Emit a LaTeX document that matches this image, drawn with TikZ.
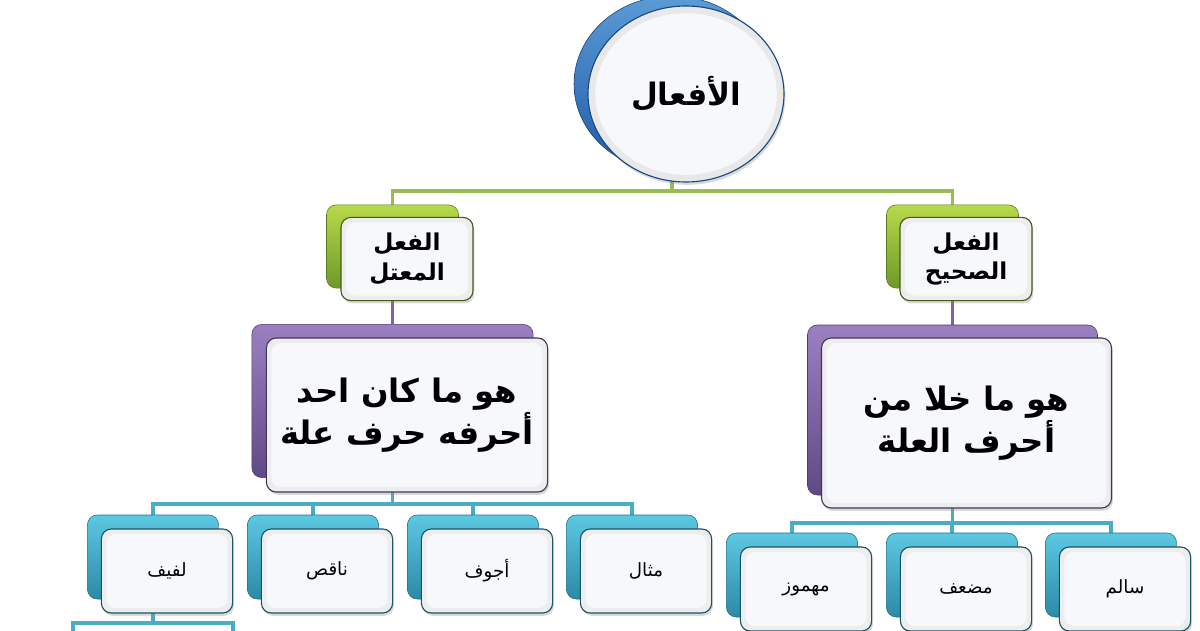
\documentclass[tikz,border=0pt]{standalone}
\usepackage{fontspec}
\usetikzlibrary{backgrounds,shadows,shapes.geometric}
\TeXXeTstate=1
\newfontfamily\arabicfont[Script=Arabic]{DejaVu Sans}
\newcommand{\artxt}[1]{\beginR #1\endR}

\definecolor{grnln}{HTML}{9BBB59}
\definecolor{grntop}{HTML}{B8D94A}
\definecolor{grnbot}{HTML}{6E9A2A}
\definecolor{purln}{HTML}{8064A2}
\definecolor{purtop}{HTML}{9A80C0}
\definecolor{purbot}{HTML}{5F4A85}
\definecolor{cyaln}{HTML}{4BACC6}
\definecolor{cyatop}{HTML}{5CC8E2}
\definecolor{cyabot}{HTML}{2C8AA6}
\definecolor{blutop}{HTML}{5B9BD5}
\definecolor{blubot}{HTML}{1F5AA6}
\definecolor{frin}{HTML}{F6F8FB}

\begin{document}
\begin{tikzpicture}[
  bk/.style={rounded corners=7pt, inner sep=0pt},
  gbk/.style={bk, top color=grntop, bottom color=grnbot, draw=grnbot!80!black, line width=.4pt},
  pbk/.style={bk, top color=purtop, bottom color=purbot, draw=purbot!80!black, line width=.4pt},
  cbk/.style={bk, top color=cyatop, bottom color=cyabot, draw=cyabot!80!black, line width=.4pt},
  fr/.style={rounded corners=7pt, inner sep=2pt, align=center, line width=.8pt,
             fill=gray!14, drop shadow={shadow xshift=1pt, shadow yshift=-2pt, opacity=.3},
             path picture={\fill[frin] ([shift={(3.5pt,-3.5pt)}]path picture bounding box.north west)
               rectangle ([shift={(-3.5pt,3.5pt)}]path picture bounding box.south east);}},
  gfr/.style={fr, draw=grnbot!60!black},
  pfr/.style={fr, draw=purbot!70!black},
  cfr/.style={fr, draw=cyabot!60!black},
  lvone/.style={minimum width=3.3cm, minimum height=2.08cm},
  leaf/.style={minimum width=3.28cm, minimum height=2.1cm},
  boldar/.style={font=\arabicfont\bfseries\fontsize{16.5}{21}\selectfont},
  defar/.style={font=\arabicfont\bfseries\fontsize{23}{30}\selectfont},
  leafar/.style={font=\arabicfont\fontsize{13}{16}\selectfont},
  gln/.style={line width=2.3pt, grnln},
  pln/.style={line width=2.3pt, purln},
  cln/.style={line width=2.3pt, cyaln}
]
  \useasboundingbox (0,0) rectangle (30,15.75);

  %% root circle
  \node[ellipse, minimum width=4.9cm, minimum height=4.4cm, top color=blutop, bottom color=blubot,
        draw=blubot!70!black] (rootb) at (16.8, 13.65) {};
  \node[ellipse, minimum width=4.9cm, minimum height=4.4cm, fill=gray!18, draw=blubot!80!black,
        line width=.8pt, drop shadow={shadow xshift=1pt, shadow yshift=-2pt, opacity=.3},
        path picture={\fill[frin] (path picture bounding box.center) ellipse (2.27cm and 2.02cm);},
        font=\arabicfont\bfseries\fontsize{22}{26}\selectfont] (root) at (17.15, 13.4) {\artxt{الأفعال}};

  %% level one
  \node[gbk, lvone] (mtlb) at (9.8125, 9.5875) {};
  \node[gfr, lvone, boldar] (mtl) at (10.175, 9.275) {\artxt{الفعل}\\\artxt{المعتل}};
  \node[gbk, lvone] (shhb) at (23.8125, 9.5875) {};
  \node[gfr, lvone, boldar] (shh) at (24.15, 9.275) {\artxt{الفعل}\\\artxt{الصحيح}};

  %% definitions
  \node[pbk, minimum width=7.03cm, minimum height=3.83cm] (defmb) at (9.8125, 5.725) {};
  \node[pfr, minimum width=7.03cm, minimum height=3.85cm, defar] (defm) at (10.175, 5.375)
    {\artxt{هو ما كان احد}\\\artxt{أحرفه حرف علة}};
  \node[pbk, minimum width=7.25cm, minimum height=4.25cm] (defsb) at (23.8125, 5.5) {};
  \node[pfr, minimum width=7.25cm, minimum height=4.25cm, defar] (defs) at (24.1625, 5.175)
    {\artxt{هو ما خلا من}\\\artxt{أحرف العلة}};

  %% leaves of the weak verb
  \node[cbk, leaf] (lafifb) at (3.825, 1.825) {};
  \node[cfr, leaf, leafar] (lafif) at (4.175, 1.475) {\artxt{لفيف}};
  \node[cbk, leaf] (naqisb) at (7.825, 1.825) {};
  \node[cfr, leaf, leafar] (naqis) at (8.175, 1.475) {\artxt{ناقص}};
  \node[cbk, leaf] (ajwafb) at (11.825, 1.825) {};
  \node[cfr, leaf, leafar] (ajwaf) at (12.175, 1.475) {\artxt{أجوف}};
  \node[cbk, leaf] (mithalb) at (15.8, 1.825) {};
  \node[cfr, leaf, leafar] (mithal) at (16.15, 1.475) {\artxt{مثال}};

  %% leaves of the sound verb
  \node[cbk, leaf] (mahmuzb) at (19.8, 1.375) {};
  \node[cfr, leaf, leafar] (mahmuz) at (20.15, 1.025) {\artxt{مهموز}};
  \node[cbk, leaf] (mudaafb) at (23.8, 1.375) {};
  \node[cfr, leaf, leafar] (mudaaf) at (24.15, 1.025) {\artxt{مضعف}};
  \node[cbk, leaf] (salimb) at (27.775, 1.375) {};
  \node[cfr, leaf, leafar] (salim) at (28.125, 1.025) {\artxt{سالم}};

  \coordinate (gbar) at (16.8, 10.975);
  \coordinate (cbarl) at (9.8125, 3.15);
  \coordinate (cbarr) at (23.8125, 2.675);
  \coordinate (lbar) at (3.825, 0.175);
  \coordinate (offl) at (1.825, -0.5);
  \coordinate (offr) at (5.825, -0.5);

  \begin{pgfonlayer}{background}
    %% root -> level one
    \draw[gln] (rootb.south) -- (gbar) -| (mtlb.north);
    \draw[gln] (gbar) -| (shhb.north);
    %% level one -> definitions
    \draw[pln] (mtlb.south) -- (defmb.north);
    \draw[pln] (shhb.south) -- (defsb.north);
    %% definitions -> leaves
    \foreach \n in {lafifb, naqisb, ajwafb, mithalb}
      \draw[cln] (defmb.south) -- (cbarl) -| (\n.north);
    \foreach \n in {mahmuzb, mudaafb, salimb}
      \draw[cln] (defsb.south) -- (cbarr) -| (\n.north);
    %% lafif -> off the page
    \draw[cln] (lafifb.south) -- (lbar) -| (offl);
    \draw[cln] (lbar) -| (offr);
  \end{pgfonlayer}
\end{tikzpicture}
\end{document}
